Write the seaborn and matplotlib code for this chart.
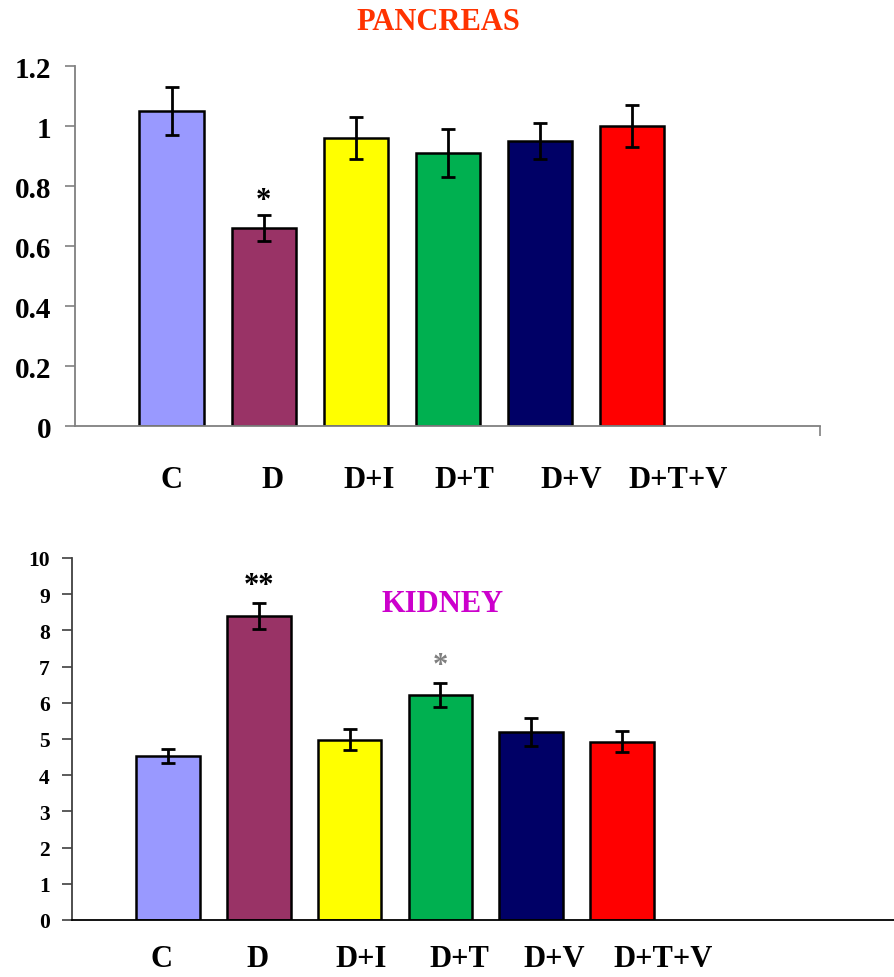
import matplotlib
matplotlib.use("Agg")
import matplotlib.pyplot as plt
import seaborn as sns
import pandas as pd
from matplotlib.ticker import FuncFormatter

# ---- data ----
groups = ["C", "D", "D+I", "D+T", "D+V", "D+T+V"]
colors = ["#9999FF", "#993366", "#FFFF00", "#00B050", "#000066", "#FF0000"]

pancreas_mean = [1.05, 0.66, 0.96, 0.91, 0.95, 1.00]
pancreas_err = [0.08, 0.042, 0.07, 0.08, 0.06, 0.07]
pancreas_yticks = [0, 0.2, 0.4, 0.6, 0.8, 1.0, 1.2]

kidney_mean = [4.52, 8.40, 4.98, 6.22, 5.19, 4.93]
kidney_err = [0.19, 0.36, 0.29, 0.33, 0.39, 0.29]
kidney_yticks = [0, 1, 2, 3, 4, 5, 6, 7, 8, 9, 10]

# label positions (category units, the labels sit slightly off the bar centres)
pancreas_label_pos = [0.0, 1.10, 2.14, 3.18, 4.34, 5.50]
kidney_label_pos = [-0.07, 0.99, 2.13, 3.21, 4.26, 5.45]

sns.set_theme(style="white")
plt.rcParams["font.family"] = ["Liberation Serif", "DejaVu Serif"]
plt.rcParams["font.weight"] = "bold"

fig = plt.figure(figsize=(8.94, 9.78), dpi=100)
W, H = 894, 978
ax1 = fig.add_axes([75 / W, 1 - 427 / H, (820 - 75) / W, (427 - 67) / H])
ax2 = fig.add_axes([72 / W, 1 - 921 / H, (W - 72) / W, (921 - 559) / H])


def draw(ax, means, errs, yticks, ymax, label_pos, xlim, tick_fs, spine_col, xspine_col, pad_y, pad_x):
    df = pd.DataFrame({"group": groups, "value": means})
    sns.barplot(data=df, x="group", y="value", hue="group", palette=colors,
                legend=False, width=0.7, edgecolor="black", linewidth=1.8,
                saturation=1, ax=ax, errorbar=None)
    ax.errorbar(x=list(range(len(groups))), y=means, yerr=errs, fmt="none",
                ecolor="black", elinewidth=2, capsize=5, capthick=2, zorder=5)
    ax.set_xlim(*xlim)
    ax.set_ylim(0, ymax)
    ax.set_yticks(yticks)
    ax.yaxis.set_major_formatter(FuncFormatter(lambda v, p: f"{v:g}"))
    ax.set_xticks(label_pos)
    ax.set_xticklabels(groups)
    ax.set_xlabel("")
    ax.set_ylabel("")
    for s in ["top", "right"]:
        ax.spines[s].set_visible(False)
    ax.spines["left"].set_color(spine_col)
    ax.spines["left"].set_linewidth(1.3)
    ax.spines["bottom"].set_color(xspine_col)
    ax.spines["bottom"].set_linewidth(1.3)
    ax.tick_params(axis="y", direction="out", length=7, width=1.2, color=spine_col,
                   labelsize=tick_fs, pad=pad_y, left=True)
    ax.tick_params(axis="x", length=0, labelsize=22, pad=pad_x, bottom=False)
    for t in ax.get_xticklabels() + ax.get_yticklabels():
        t.set_fontweight("bold")
        t.set_color("black")
    ax.grid(False)
    ax.set_facecolor("white")


draw(ax1, pancreas_mean, pancreas_err, pancreas_yticks, 1.2, pancreas_label_pos,
     (-1.05, 7.04), 21, "#808080", "#808080", 10, 28)
draw(ax2, kidney_mean, kidney_err, kidney_yticks, 10, kidney_label_pos,
     (-1.06, 8.0), 15.5, "#404040", "black", 9, 17)

# right-end tick on the top x axis
ax1.set_xticks([7.04], minor=True)
ax1.tick_params(axis="x", which="minor", direction="out", length=7, width=1.2,
                color="#808080", bottom=True)

# significance marks
ax1.text(1, 0.705, "*", ha="center", va="bottom", fontsize=22, color="black")
ax2.text(1, 8.85, "**", ha="center", va="bottom", fontsize=22, color="black")
ax2.text(3, 6.62, "*", ha="center", va="bottom", fontsize=22, color="#808080")

# titles
fig.text(438 / W, 1 - 22 / H, "PANCREAS", ha="center", va="center", fontsize=22,
         fontweight="bold", color="#FF3300")
fig.text(443 / W, 1 - 604 / H, "KIDNEY", ha="center", va="center", fontsize=22,
         fontweight="bold", color="#CC00CC")

fig.savefig("out.png", dpi=100, facecolor="white")
